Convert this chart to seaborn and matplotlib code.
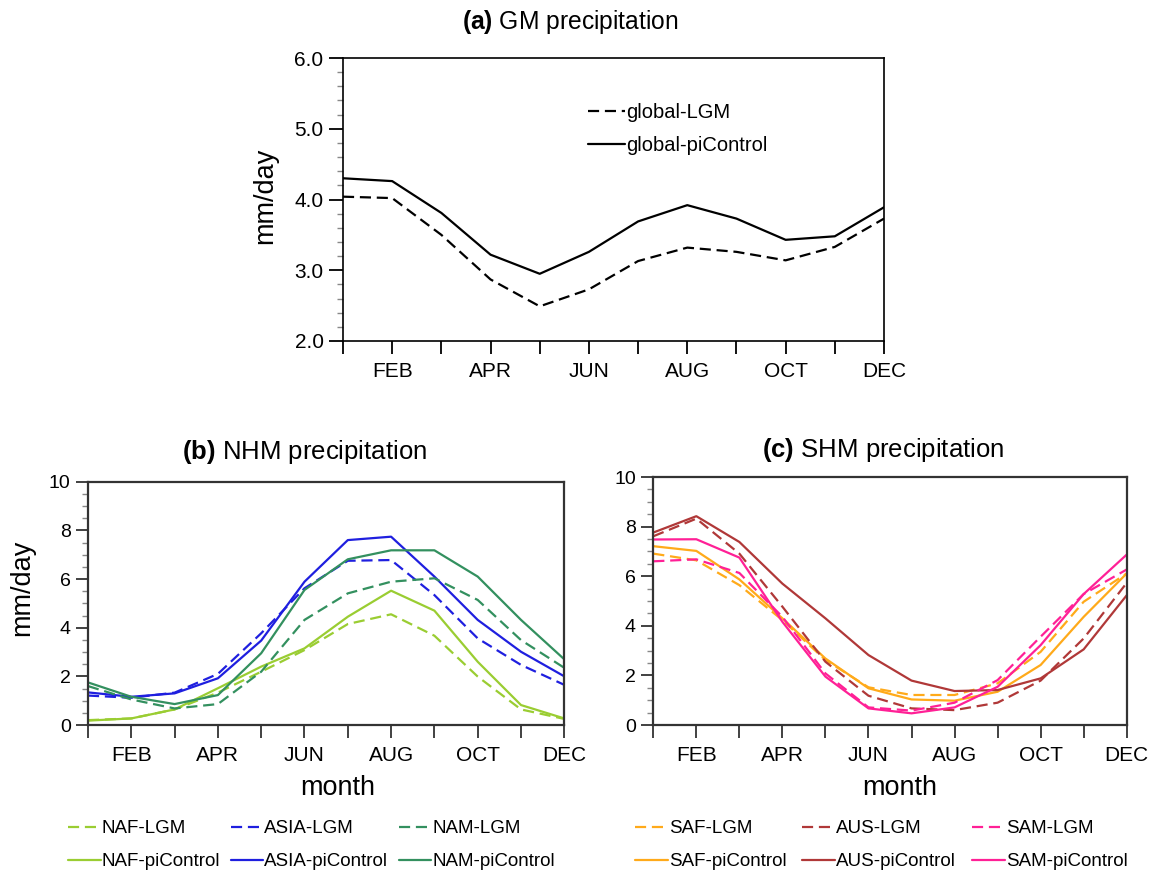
import matplotlib
matplotlib.use("Agg")
import matplotlib.pyplot as plt
from matplotlib.lines import Line2D
from matplotlib.ticker import MultipleLocator, FormatStrFormatter
import seaborn as sns
import pandas as pd

sns.set_theme(style="white")
plt.rcParams['font.family'] = ['Liberation Sans', 'DejaVu Sans']
plt.rcParams['mathtext.fontset'] = 'custom'
plt.rcParams['mathtext.rm'] = 'Liberation Sans'
plt.rcParams['mathtext.bf'] = 'Liberation Sans:bold'
plt.rcParams['text.color'] = 'black'
plt.rcParams['axes.labelcolor'] = 'black'

months = list(range(1, 13))
month_labels = ["", "FEB", "", "APR", "", "JUN", "", "AUG", "", "OCT", "", "DEC"]

gm_lgm = [4.04, 4.02, 3.50, 2.87, 2.49, 2.73, 3.13, 3.32, 3.26, 3.14, 3.33, 3.73]
gm_pi = [4.30, 4.26, 3.81, 3.22, 2.95, 3.26, 3.69, 3.92, 3.73, 3.43, 3.48, 3.89]

naf_lgm = [0.20, 0.27, 0.64, 1.33, 2.19, 3.08, 4.15, 4.55, 3.67, 1.99, 0.64, 0.25]
naf_pi = [0.18, 0.27, 0.64, 1.51, 2.40, 3.15, 4.45, 5.52, 4.70, 2.60, 0.82, 0.27]
asia_lgm = [1.21, 1.12, 1.33, 2.10, 3.77, 5.62, 6.75, 6.78, 5.34, 3.56, 2.47, 1.65]
asia_pi = [1.34, 1.16, 1.30, 1.92, 3.47, 5.89, 7.60, 7.74, 6.10, 4.32, 3.01, 2.00]
nam_lgm = [1.60, 1.05, 0.68, 0.86, 2.19, 4.32, 5.41, 5.89, 6.03, 5.14, 3.49, 2.35]
nam_pi = [1.75, 1.16, 0.86, 1.23, 2.95, 5.55, 6.81, 7.18, 7.18, 6.10, 4.32, 2.70]

saf_lgm = [6.91, 6.64, 5.64, 4.23, 2.62, 1.52, 1.21, 1.21, 1.68, 2.95, 4.97, 6.11]
saf_pi = [7.21, 7.02, 5.87, 4.30, 2.68, 1.48, 1.03, 0.98, 1.34, 2.42, 4.36, 6.11]
aus_lgm = [7.61, 8.32, 6.91, 4.77, 2.55, 1.18, 0.67, 0.60, 0.90, 1.79, 3.49, 5.73]
aus_pi = [7.76, 8.42, 7.38, 5.70, 4.30, 2.82, 1.79, 1.37, 1.41, 1.88, 3.05, 5.23]
sam_lgm = [6.60, 6.68, 6.13, 4.36, 2.08, 0.71, 0.58, 0.90, 1.81, 3.56, 5.28, 6.27]
sam_pi = [7.48, 7.49, 6.75, 4.16, 1.95, 0.67, 0.47, 0.71, 1.54, 3.22, 5.28, 6.87]

W, H = 1151, 875
fig = plt.figure(figsize=(W / 100, H / 100), dpi=100)


def axes_px(l, t, r, b):
    return fig.add_axes([l / W, 1 - b / H, (r - l) / W, (b - t) / H])


def long_df(series):
    rows = []
    for (region, exp), vals in series.items():
        for m, v in zip(months, vals):
            rows.append({"month": m, "value": v, "region": region, "exp": exp,
                         "key": f"{region}-{exp}"})
    return pd.DataFrame(rows)


DASH = (5, 2.6)
dashes = {"LGM": DASH, "piControl": ""}


def style_axes(ax, ymin, ymax, major, minor, fmt, ylabsize, xlabsize, spine_lw, spine_col,
               ylen=8.5):
    ax.set_xlim(1, 12)
    ax.set_ylim(ymin, ymax)
    ax.set_xticks(months)
    ax.set_xticklabels(month_labels)
    ax.yaxis.set_major_locator(MultipleLocator(major))
    ax.yaxis.set_minor_locator(MultipleLocator(minor))
    if fmt:
        ax.yaxis.set_major_formatter(FormatStrFormatter(fmt))
    ax.tick_params(axis='x', which='major', direction='out', length=9, width=1.3,
                   colors=spine_col, labelcolor='black', labelsize=xlabsize, pad=6,
                   bottom=True)
    ax.tick_params(axis='y', which='major', direction='out', length=ylen, width=1.3,
                   colors=spine_col, labelcolor='black', labelsize=ylabsize, pad=4, left=True)
    ax.tick_params(axis='y', which='minor', direction='out', length=4, width=1.0,
                   colors='#888888', left=True)
    for s in ax.spines.values():
        s.set_linewidth(spine_lw)
        s.set_color(spine_col)
        s.set_visible(True)
    ax.set_xlabel("")
    ax.set_ylabel("")


LABEL_FS = 19.5

# ---------------- (a) ----------------
axa = axes_px(343, 58, 884, 341)
dfa = long_df({("global", "LGM"): gm_lgm, ("global", "piControl"): gm_pi})
sns.lineplot(data=dfa, x="month", y="value", hue="key", style="exp",
             palette={"global-LGM": "black", "global-piControl": "black"},
             dashes=dashes, linewidth=1.6, legend=False, ax=axa)
style_axes(axa, 2.0, 6.0, 1.0, 0.2, "%.1f", 15, 15, 1.2, 'black', ylen=10)
axa.set_ylabel("mm/day", fontsize=LABEL_FS)
axa.yaxis.label.set_va('center')
axa.yaxis.set_label_coords(-0.144, 0.512)
ha = [Line2D([], [], color='black', lw=1.6, linestyle=(0, DASH)),
      Line2D([], [], color='black', lw=1.6)]
axa.legend(ha, ["global-LGM", "global-piControl"], loc='upper left',
           bbox_to_anchor=(588 / W, 1 - 103 / H), bbox_transform=fig.transFigure,
           frameon=False, fontsize=14.5, handlelength=1.85, handletextpad=0.05,
           borderpad=0, borderaxespad=0, labelspacing=0.7)
fig.text(570 / W, 1 - 22 / H, r"$\mathbf{(a)}$ GM precipitation", fontsize=17.7,
         ha='center', va='center')

# ---------------- (b) ----------------
axb = axes_px(88, 481.7, 564.3, 725)
nh_colors = {"NAF": "#9acd32", "ASIA": "#1f1fdf", "NAM": "#33905f"}
dfb = long_df({("NAF", "LGM"): naf_lgm, ("NAF", "piControl"): naf_pi,
               ("ASIA", "LGM"): asia_lgm, ("ASIA", "piControl"): asia_pi,
               ("NAM", "LGM"): nam_lgm, ("NAM", "piControl"): nam_pi})
sns.lineplot(data=dfb, x="month", y="value", hue="region", style="exp",
             palette=nh_colors, dashes=dashes, linewidth=1.6, legend=False, ax=axb)
style_axes(axb, 0, 10, 2, 0.5, None, 14, 15, 1.6, '#333333')
axb.set_ylabel("mm/day", fontsize=LABEL_FS)
axb.yaxis.label.set_va('center')
axb.yaxis.set_label_coords(-0.139, 0.565)
axb.set_xlabel("month", fontsize=LABEL_FS)
axb.xaxis.label.set_va('center')
axb.xaxis.set_label_coords(0.525, -0.259)
hb, lb = [], []
for reg in ["NAF", "ASIA", "NAM"]:
    for exp in ["LGM", "piControl"]:
        hb.append(Line2D([], [], color=nh_colors[reg], lw=1.6,
                         linestyle=(0, DASH) if exp == "LGM" else '-'))
        lb.append(f"{reg}-{exp}")
axb.legend(hb, lb, loc='upper left', ncol=3,
           bbox_to_anchor=(68 / W, 1 - 820 / H), bbox_transform=fig.transFigure,
           frameon=False, fontsize=13.5, handlelength=1.75, handletextpad=0.05,
           borderpad=0, borderaxespad=0, labelspacing=0.85, columnspacing=0.55)
fig.text(304 / W, 1 - 452 / H, r"$\mathbf{(b)}$ NHM precipitation", fontsize=18.5,
         ha='center', va='center')

# ---------------- (c) ----------------
axc = axes_px(653.3, 477, 1126.7, 725)
sh_colors = {"SAF": "#ffaa1a", "AUS": "#b03838", "SAM": "#ff2096"}
dfc = long_df({("SAF", "LGM"): saf_lgm, ("SAF", "piControl"): saf_pi,
               ("AUS", "LGM"): aus_lgm, ("AUS", "piControl"): aus_pi,
               ("SAM", "LGM"): sam_lgm, ("SAM", "piControl"): sam_pi})
sns.lineplot(data=dfc, x="month", y="value", hue="region", style="exp",
             palette=sh_colors, dashes=dashes, linewidth=1.6, legend=False, ax=axc)
style_axes(axc, 0, 10, 2, 0.5, None, 14, 15, 1.6, '#333333')
axc.set_xlabel("month", fontsize=LABEL_FS)
axc.xaxis.label.set_va('center')
axc.xaxis.set_label_coords(0.521, -0.254)
hc, lc = [], []
for reg in ["SAF", "AUS", "SAM"]:
    for exp in ["LGM", "piControl"]:
        hc.append(Line2D([], [], color=sh_colors[reg], lw=1.6,
                         linestyle=(0, DASH) if exp == "LGM" else '-'))
        lc.append(f"{reg}-{exp}")
axc.legend(hc, lc, loc='upper left', ncol=3,
           bbox_to_anchor=(635 / W, 1 - 820 / H), bbox_transform=fig.transFigure,
           frameon=False, fontsize=13.5, handlelength=1.75, handletextpad=0.05,
           borderpad=0, borderaxespad=0, labelspacing=0.85, columnspacing=0.85)
fig.text(883 / W, 1 - 450 / H, r"$\mathbf{(c)}$ SHM precipitation", fontsize=18.5,
         ha='center', va='center')

fig.savefig("out.png", dpi=100)
